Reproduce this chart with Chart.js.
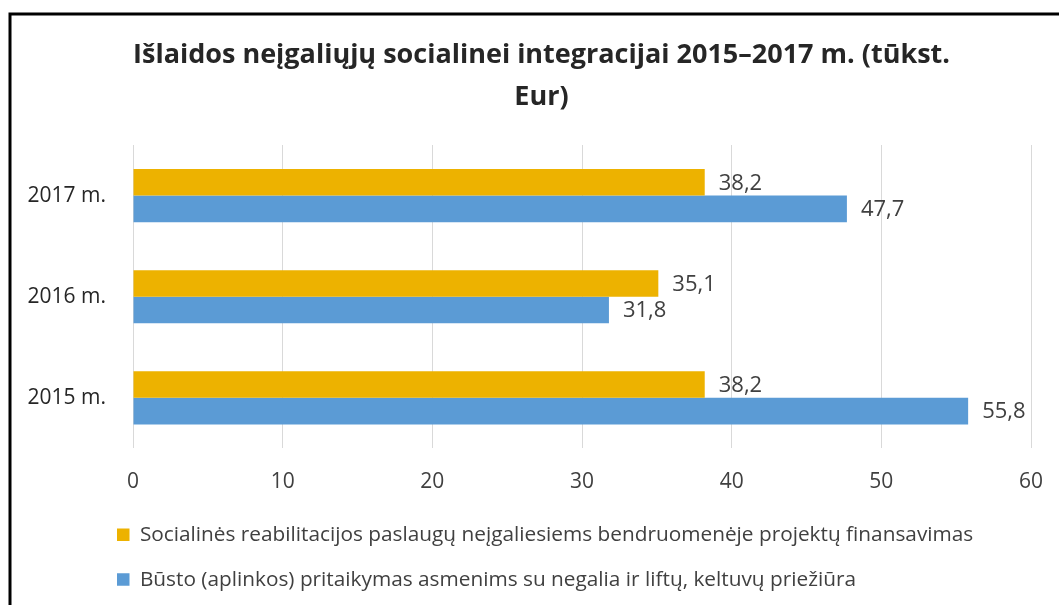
<!DOCTYPE html>
<html>
<head>
<meta charset="utf-8">
<script src="https://cdn.jsdelivr.net/npm/chart.js@4/dist/chart.umd.min.js"></script>
<style>
  html, body { margin: 0; padding: 0; background: #fff; }
  #wrap { width: 1059px; height: 605px; position: relative; }
</style>
</head>
<body>
<div id="wrap"><canvas id="grafikas"></canvas></div>
<script>
// duomenys
const metai = ['2017 m.', '2016 m.', '2015 m.'];
const reabilitacija = [38.2, 35.1, 38.2];
const bustas = [47.7, 31.8, 55.8];
const serijuPavadinimai = [
    'Socialinės reabilitacijos paslaugų neįgaliesiems bendruomenėje projektų finansavimas',
    'Būsto (aplinkos) pritaikymas asmenims su negalia ir liftų, keltuvų priežiūra'
];
const pavadinimas = ['Išlaidos neįgaliųjų socialinei integracijai 2015–2017 m. (tūkst.', 'Eur)'];

const sriftas = "'Open Sans', 'DejaVu Sans', sans-serif";

//rėmelis aplink grafiką
const remelis = {
    id: 'remelis',
    afterDraw(chart) {
        const ctx = chart.ctx;
        ctx.save();
        ctx.strokeStyle = '#000';
        ctx.lineWidth = 3;
        ctx.strokeRect(10, 14, 2000, 2000);
        ctx.restore();
    }
};

//reikšmės šalia stulpelių
const reiksmes = {
    id: 'reiksmes',
    afterDatasetsDraw(chart) {
        const ctx = chart.ctx;
        ctx.save();
        ctx.font = '22px ' + sriftas;
        ctx.fillStyle = '#404040';
        ctx.textAlign = 'left';
        ctx.textBaseline = 'middle';
        chart.data.datasets.forEach((ds, i) => {
            chart.getDatasetMeta(i).data.forEach((bar, j) => {
                ctx.fillText(String(ds.data[j]).replace('.', ','), bar.x + 14, bar.y + 1);
            });
        });
        ctx.restore();
    }
};

//legenda lygiuojama kairėje, pavadinimas pastumiamas į dešinę
const isdestymas = {
    id: 'isdestymas',
    afterLayout(chart) {
        chart.legend.left = 93;
        chart.titleBlock.left += 26;
        chart.titleBlock.right += 26;
    }
};

const ctx = document.getElementById('grafikas').getContext('2d');

new Chart(ctx, {
    type: 'bar',
    data: {
        labels: metai,
        datasets: [{
            label: serijuPavadinimai[0],
            data: reabilitacija,
            backgroundColor: '#EDB200'
        }, {
            label: serijuPavadinimai[1],
            data: bustas,
            backgroundColor: '#5B9BD5'
        }]
    },
    options: {
        indexAxis: 'y',
        responsive: true,
        maintainAspectRatio: false,
        animation: false,
        categoryPercentage: 0.525,
        barPercentage: 1,
        layout: {
            padding: { left: 0, right: 28, top: 18, bottom: 5 }
        },
        scales: {
            x: {
                min: 0,
                max: 60,
                ticks: {
                    stepSize: 10,
                    padding: 21,
                    color: '#404040',
                    font: { family: sriftas, size: 21 }
                },
                grid: { color: '#D9D9D9', drawTicks: false },
                border: { display: false },
                afterFit(scale) {
                    scale.height = 52;
                    scale.paddingRight = 0;
                    scale.paddingLeft = 0;
                }
            },
            y: {
                ticks: {
                    padding: 27,
                    color: '#262626',
                    font: { family: sriftas, size: 21 }
                },
                grid: { display: false, drawTicks: false },
                border: { display: false },
                afterFit(scale) {
                    scale.width = 133;
                }
            }
        },
        plugins: {
            title: {
                display: true,
                text: pavadinimas,
                color: '#262626',
                font: { family: sriftas, size: 27, weight: 'bold', lineHeight: 1.556 },
                padding: { top: 16, bottom: 27 }
            },
            legend: {
                display: true,
                position: 'bottom',
                align: 'start',
                labels: {
                    boxWidth: 12.5,
                    boxHeight: 12.5,
                    padding: 24,
                    color: '#404040',
                    font: { family: sriftas, size: 20.8 }
                }
            },
            tooltip: { enabled: false }
        }
    },
    plugins: [remelis, reiksmes, isdestymas]
});
</script>
</body>
</html>
